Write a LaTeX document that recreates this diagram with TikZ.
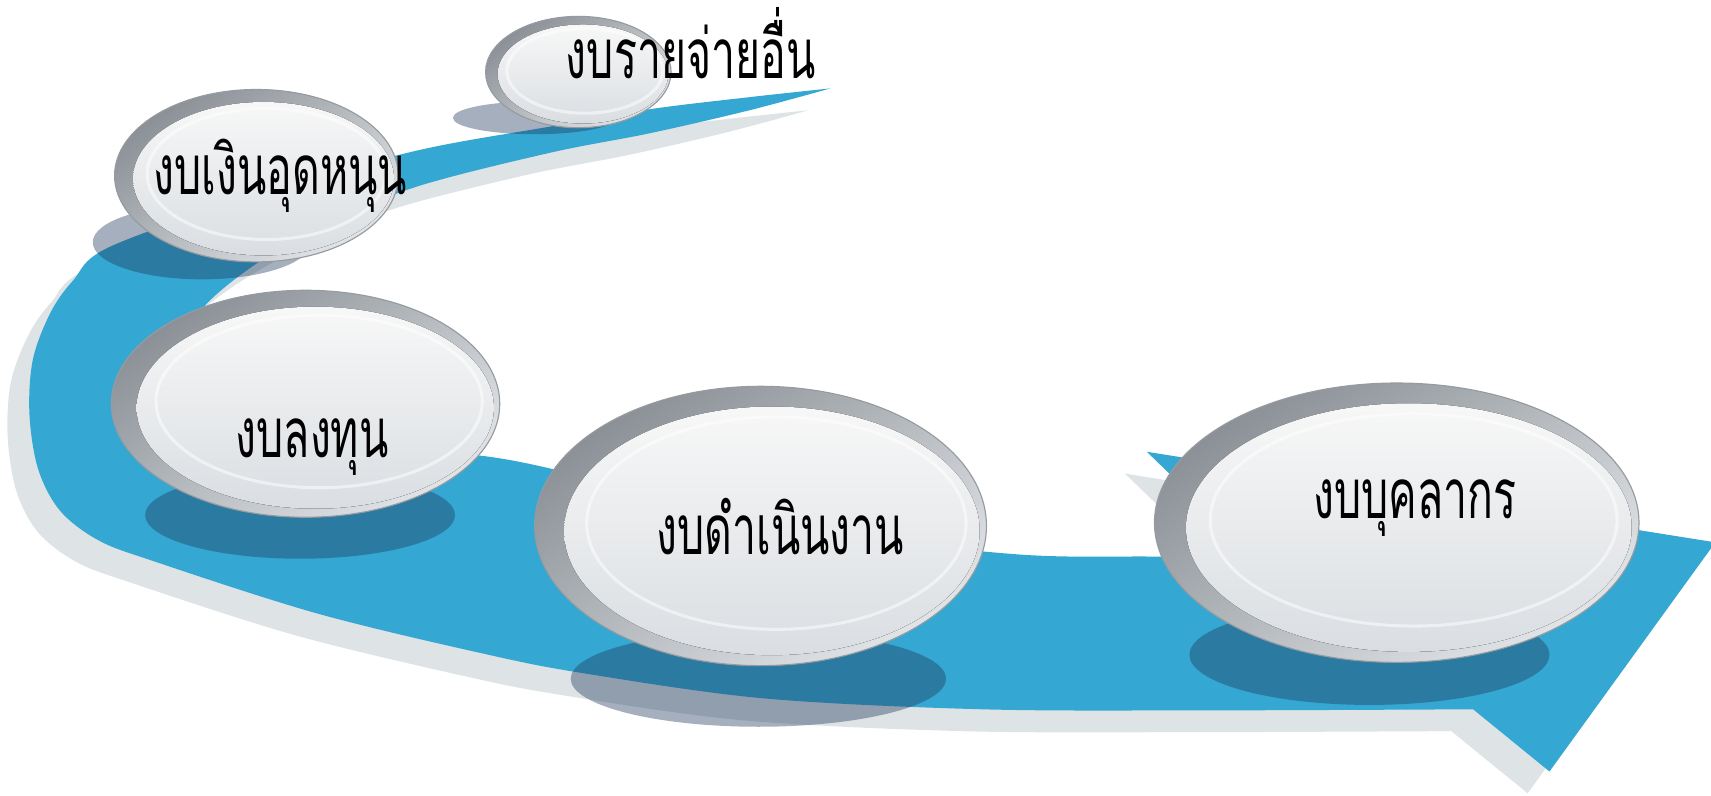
\documentclass[tikz,border=0pt]{standalone}
\usepackage{fontspec}
\usetikzlibrary{calc}
\newfontfamily\thaifont[Script=Thai,FakeStretch=0.62]{Loma}
\definecolor{bandblue}{RGB}{52,168,210}
\definecolor{bandgray}{RGB}{222,227,230}
\definecolor{slate}{RGB}{30,55,90}
\definecolor{rimdark}{RGB}{138,144,150}
\definecolor{rimlight}{RGB}{226,229,232}
\definecolor{facegray}{RGB}{218,222,226}

\begin{document}
\begin{tikzpicture}[x=0.01cm, y=-0.01cm]
    % ----- styles -----
    \tikzset{
        bandfill/.style={fill=bandblue},
        bandshade/.style={fill=bandgray},
        dropshade/.style={fill=slate, fill opacity=0.4},
        rim/.style={shading=axis, top color=rimdark, bottom color=rimlight, shading angle=35, draw=rimdark!90, line width=0.3pt},
        face/.style={shading=axis, top color=white!94!gray, bottom color=facegray},
        gloss/.style={draw=white, line width=0.8pt, opacity=0.5},
        budget/.style={font=\thaifont\fontsize{18}{18}\selectfont, inner sep=0pt, anchor=base}
    }
    \useasboundingbox (0,0) rectangle (1568,729);

    % ----- centres of the bubbles -----
    \coordinate (c1) at (1280,479);   % personnel
    \coordinate (c2) at (697,482);    % operating
    \coordinate (c3) at (280,370);    % investment
    \coordinate (c4) at (235,161);    % subsidy
    \coordinate (c5) at (530,66);     % other

    % ----- the curved arrow (shadow first) -----
    \fill[bandshade, shift={(-20,20)}]
        plot[smooth, tension=0.55] coordinates {(761,81) (687,89) (596,100) (504,116) (382,138) (240,177) (101,226) (67,257) (46,287) (30,330) (27,380) (35,430) (55,468) (90,495) (140,514) (290,562) (443,599) (535,617) (700,640) (900,650) (1100,651) (1350,650)}
        -- (1420,707) -- (1572,497) -- (1051,414) -- (1150,510)
        -- plot[smooth, tension=0.55] coordinates {(1150,510) (1054,510) (932,508) (760,488) (600,453) (458,420) (300,405) (210,385) (170,340) (180,290) (230,245) (300,205) (382,171) (504,140) (596,122) (687,101) (761,81)} -- cycle;
    \fill[bandfill]
        plot[smooth, tension=0.55] coordinates {(761,81) (687,89) (596,100) (504,116) (382,138) (240,177) (101,226) (67,257) (46,287) (30,330) (27,380) (35,430) (55,468) (90,495) (140,514) (290,562) (443,599) (535,617) (700,640) (900,650) (1100,651) (1350,650)}
        -- (1420,707) -- (1572,497) -- (1051,414) -- (1150,510)
        -- plot[smooth, tension=0.55] coordinates {(1150,510) (1054,510) (932,508) (760,488) (600,453) (458,420) (300,405) (210,385) (170,340) (180,290) (230,245) (300,205) (382,171) (504,140) (596,122) (687,101) (761,81)} -- cycle;

    % ----- shadows under the bubbles -----
    \fill[dropshade] (490,108) ellipse [x radius=75, y radius=15];
    \fill[dropshade] (185,222) ellipse [x radius=100, y radius=34];
    \fill[dropshade] (275,472) ellipse [x radius=142, y radius=40];
    \fill[dropshade] (695,622) ellipse [x radius=172, y radius=44];
    \fill[dropshade] (1255,600) ellipse [x radius=165, y radius=46];

    % ----- bubbles -----
    \foreach \c/\rx/\ry in {c1/222/128, c2/207/128, c3/178/104, c4/130/79, c5/85/51} {
        \draw[rim] (\c) ellipse [x radius=\rx, y radius=\ry];
        \fill[face] ($(\c)+(0.05*\rx,0.035*\ry)$) ellipse [x radius=0.92*\rx, y radius=0.89*\ry];
        \draw[gloss] ($(\c)+(0.07*\rx,-0.02*\ry)$) ellipse [x radius=0.84*\rx, y radius=0.76*\ry];
    }

    % ----- labels -----
    \node[budget] (t1) at (1297,475) {งบบุคลากร};
    \node[budget] (t2) at (715,508) {งบดำเนินงาน};
    \node[budget] (t3) at (286,419) {งบลงทุน};
    \node[budget] (t4) at (257,178) {งบเงินอุดหนุน};
    \node[budget] (t5) at (633,72) {งบรายจ่ายอื่น};
\end{tikzpicture}
\end{document}
